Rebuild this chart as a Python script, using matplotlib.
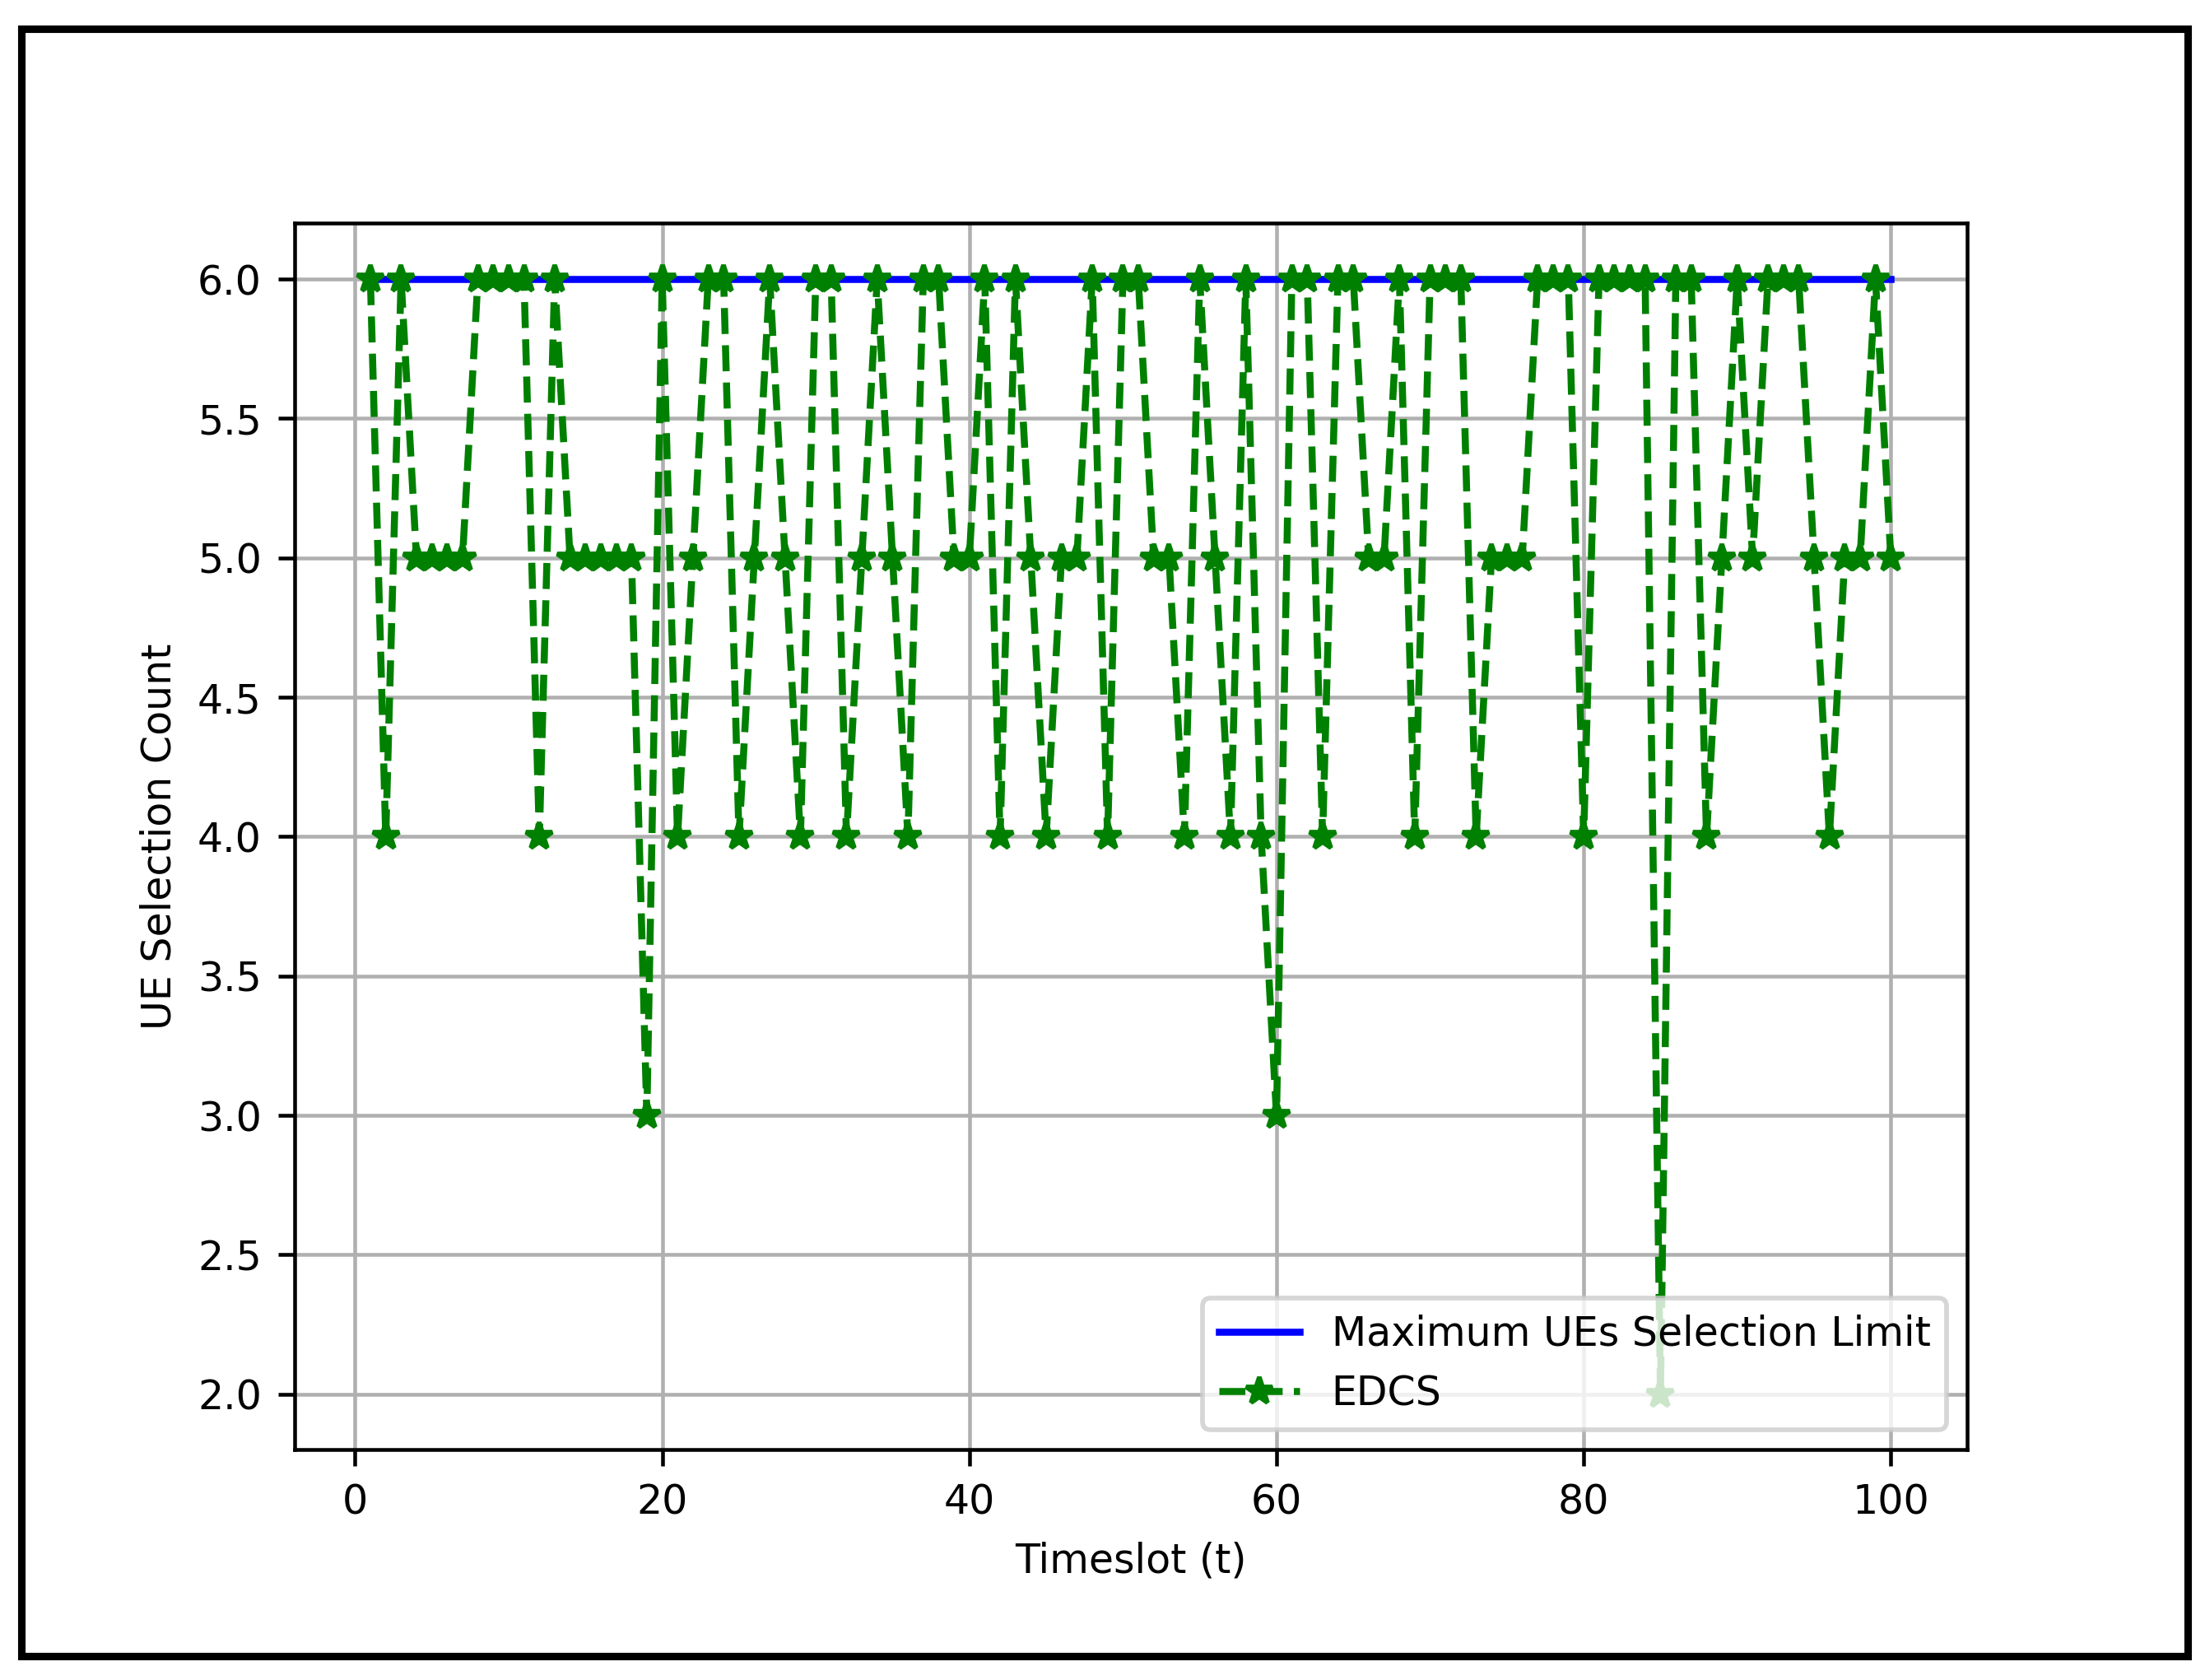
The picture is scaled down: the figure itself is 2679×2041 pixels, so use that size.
import matplotlib
matplotlib.use('Agg')
import matplotlib.pyplot as plt
from matplotlib.patches import Rectangle

# UE selection count per timeslot
timeslots = list(range(1, 101))
edcs = [6, 4, 6, 5, 5, 5, 5, 6, 6, 6, 6, 4, 6, 5, 5, 5, 5, 5, 3, 6,
        4, 5, 6, 6, 4, 5, 6, 5, 4, 6, 6, 4, 5, 6, 5, 4, 6, 6, 5, 5,
        6, 4, 6, 5, 4, 5, 5, 6, 4, 6, 6, 5, 5, 4, 6, 5, 4, 6, 4, 3,
        6, 6, 4, 6, 6, 5, 5, 6, 4, 6, 6, 6, 4, 5, 5, 5, 6, 6, 6, 4,
        6, 6, 6, 6, 2, 6, 6, 4, 5, 6, 5, 6, 6, 6, 5, 4, 5, 5, 6, 5]
max_limit = [6] * len(timeslots)

plt.rcParams['font.size'] = 8.6

dpi = 410
fig = plt.figure(figsize=(2679 / dpi, 2041 / dpi), dpi=dpi)
ax = fig.add_axes([0.1335, 0.137, 0.7585, 0.73])

ax.plot(timeslots, max_limit, color='blue', linestyle='-', label='Maximum UEs Selection Limit')
ax.plot(timeslots, edcs, color='green', linestyle='--', marker='*', label='EDCS')

ax.set_xlabel('Timeslot (t)')
ax.set_ylabel('UE Selection Count')
ax.grid(True)
ax.legend(loc='lower right')

# black frame around the whole figure
fig.patches.append(Rectangle((0.0096, 0.0143), 0.9824, 0.9687, transform=fig.transFigure,
                             fill=False, edgecolor='black', linewidth=1.6))

fig.savefig('out.png', dpi=dpi)
